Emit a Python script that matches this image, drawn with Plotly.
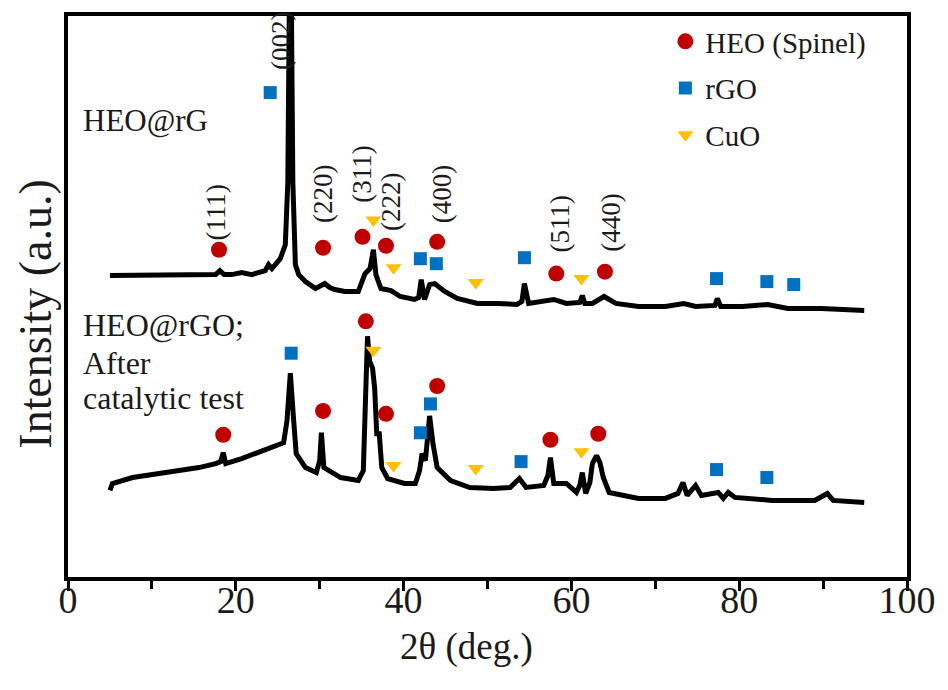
import plotly.graph_objects as go

# ---------------- data ----------------
# Upper pattern: HEO@rG
x_top = [5.0, 8.0, 11.0, 14.0, 17.6, 18.1, 18.6, 19.5, 20.7, 21.9,
         23.0, 23.5, 23.9, 24.3, 25.3, 25.9, 26.2, 26.5, 26.8, 27.1,
         27.5, 28.3, 29.5, 30.0, 30.6, 31.2, 31.8, 33.0, 34.6, 35.4,
         36.0, 36.4, 36.7, 37.3, 38.5, 39.6, 41.3, 41.8, 42.1, 42.5,
         43.1, 43.7, 44.9, 46.4, 48.8, 51.1, 53.5, 54.1, 54.4, 54.9,
         56.7, 57.9, 59.4, 61.0, 61.3, 61.6, 62.5, 63.9, 65.3, 68.0,
         71.2, 73.4, 74.8, 77.1, 77.4, 77.8, 80.4, 83.4, 85.8, 89.8,
         94.9]
y_top = [303, 303, 303, 304, 304, 308, 304, 304, 306, 304,
         307, 308, 314, 310, 320, 334, 397, 700, 397, 314,
         304, 297, 290, 292, 295, 291, 289, 287, 287, 305,
         310, 329, 304, 290, 288, 282, 279, 281, 299, 279,
         294, 295, 287, 280, 275, 275, 274, 277, 295, 275,
         277, 279, 275, 276, 283, 275, 275, 282, 275, 272,
         272, 275, 272, 273, 280, 272, 272, 274, 270, 270,
         268]

# Lower pattern: HEO@rGO after catalytic test
x_bot = [5.0, 5.3, 7.7, 11.7, 15.6, 17.6, 18.2, 18.5, 18.8, 20.7,
         22.7, 24.3, 25.7, 26.1, 26.5, 26.9, 27.2, 28.3, 29.6, 30.0,
         30.2, 30.5, 31.8, 32.5, 34.6, 35.2, 35.5, 35.7, 35.95, 36.3,
         36.55, 36.8, 37.1, 37.4, 38.1, 40.1, 41.4, 41.9, 42.2, 42.6,
         43.1, 43.5, 44.0, 45.6, 47.9, 50.7, 52.7, 53.8, 54.6, 56.7,
         57.2, 57.5, 57.9, 59.4, 60.6, 61.0, 61.3, 61.7, 62.2, 62.5,
         63.0, 63.4, 63.8, 64.5, 68.0, 71.2, 72.7, 73.3, 73.8, 74.8,
         75.5, 77.5, 78.1, 78.7, 79.5, 83.9, 89.0, 90.5, 91.2, 94.9]
y_bot = [87, 94, 100, 105, 110, 114, 116, 125, 114, 119,
         125, 130, 135, 157, 205, 157, 124, 110, 105, 117,
         145, 110, 104, 100, 97, 107, 190, 242, 217, 210,
         190, 144, 144, 110, 99, 94, 94, 107, 124, 117,
         162, 134, 110, 97, 90, 89, 90, 99, 90, 92,
         102, 120, 94, 94, 85, 92, 105, 84, 95, 114,
         122, 115, 100, 85, 79, 79, 84, 95, 82, 92,
         82, 85, 79, 85, 80, 77, 77, 84, 77, 75]

# Phase markers (upper pattern first, then lower pattern)
heo_x = [18.0, 30.4, 35.1, 37.9, 44.0, 58.2, 64.0,
         18.5, 30.4, 35.5, 37.9, 44.0, 57.5, 63.2]
heo_y = [329, 331, 342, 333, 337, 305, 307,
         143, 167, 257, 164, 192, 138, 144]
rgo_x = [24.1, 42.0, 43.9, 54.4, 77.3, 83.3, 86.5,
         26.6, 42.0, 43.2, 54.0, 77.3, 83.3]
rgo_y = [487, 320, 315, 321, 300, 297, 294,
         225, 145, 174, 116, 108, 100]
cuo_x = [36.4, 38.8, 48.6, 61.2,
         36.4, 38.8, 48.6, 61.2]
cuo_y = [359, 311, 296, 300,
         228, 112, 109, 126]

# Miller-index labels of the upper pattern
hkl_text = ["(111)", "(002)", "(220)", "(311)", "(222)", "(400)", "(511)", "(440)"]
hkl_x = [17.6, 25.4, 30.4, 35.1, 38.5, 44.6, 58.6, 64.7]
hkl_y = [366, 539, 385, 405, 377, 385, 355, 356]

x_ticks = [0, 20, 40, 60, 80, 100]

FONT = "Liberation Serif"
RED, BLUE, YELLOW = "#C00000", "#0070C0", "#FFC000"
INK = "#1a1a1a"

fig = go.Figure()
fig.add_trace(go.Scatter(x=x_top, y=y_top, mode="lines", showlegend=False,
                         line=dict(color="black", width=5)))
fig.add_trace(go.Scatter(x=x_bot, y=y_bot, mode="lines", showlegend=False,
                         line=dict(color="black", width=5)))
fig.add_trace(go.Scatter(x=heo_x, y=heo_y, mode="markers", name="HEO (Spinel)",
                         legendgroup="a",
                         marker=dict(symbol="circle", size=16, color=RED)))
fig.add_trace(go.Scatter(x=rgo_x, y=rgo_y, mode="markers", name="rGO",
                         legendgroup="b",
                         marker=dict(symbol="square", size=13, color=BLUE)))
fig.add_trace(go.Scatter(x=cuo_x, y=cuo_y, mode="markers", name="CuO",
                         legendgroup="c",
                         marker=dict(symbol="triangle-down", size=14, color=YELLOW)))

for t, xx, yy in zip(hkl_text, hkl_x, hkl_y):
    fig.add_annotation(x=xx, y=yy, text=t, showarrow=False, textangle=-90,
                       font=dict(family=FONT, size=27, color=INK))

fig.add_annotation(x=1.5, y=459, text="HEO@rG", showarrow=False, xanchor="left",
                   font=dict(family=FONT, size=31, color=INK))
for t, yy in zip(["HEO@rGO;", "After", "catalytic test"], [253, 215, 180]):
    fig.add_annotation(x=1.5, y=yy, text=t, showarrow=False, xanchor="left",
                       font=dict(family=FONT, size=32, color=INK))

# axis titles as annotations (both sit slightly off the axis centre)
fig.add_annotation(xref="paper", x=-0.039, y=265, text="Intensity (a.u.)",
                   showarrow=False, textangle=-90, xanchor="center",
                   font=dict(family=FONT, size=46, color=INK))
fig.add_annotation(x=47.5, yref="paper", y=-0.124, text="2θ (deg.)",
                   showarrow=False, xanchor="center", yanchor="middle",
                   font=dict(family=FONT, size=37, color=INK))

fig.update_layout(
    width=948, height=690,
    margin=dict(l=68, r=36, t=13, b=113),
    paper_bgcolor="white", plot_bgcolor="white",
    font=dict(family=FONT, color=INK),
    legend=dict(x=0.712, y=1.0, xanchor="left", yanchor="top",
                bgcolor="rgba(0,0,0,0)", tracegroupgap=6,
                font=dict(family=FONT, size=29, color=INK)),
)
fig.update_xaxes(range=[0, 100], tickvals=x_ticks, ticks="outside", ticklen=10,
                 tickwidth=3, tickcolor="black",
                 minor=dict(dtick=10, ticks="outside", ticklen=8, tickwidth=3,
                            tickcolor="black"),
                 ticklabelstandoff=-24,
                 showline=True, linewidth=4, linecolor="black", mirror=True,
                 showgrid=False, zeroline=False,
                 tickfont=dict(family=FONT, size=38, color=INK))
fig.update_yaxes(range=[0, 564], showticklabels=False, ticks="",
                 showline=True, linewidth=4, linecolor="black", mirror=True,
                 showgrid=False, zeroline=False)

fig.write_html("out.html")
